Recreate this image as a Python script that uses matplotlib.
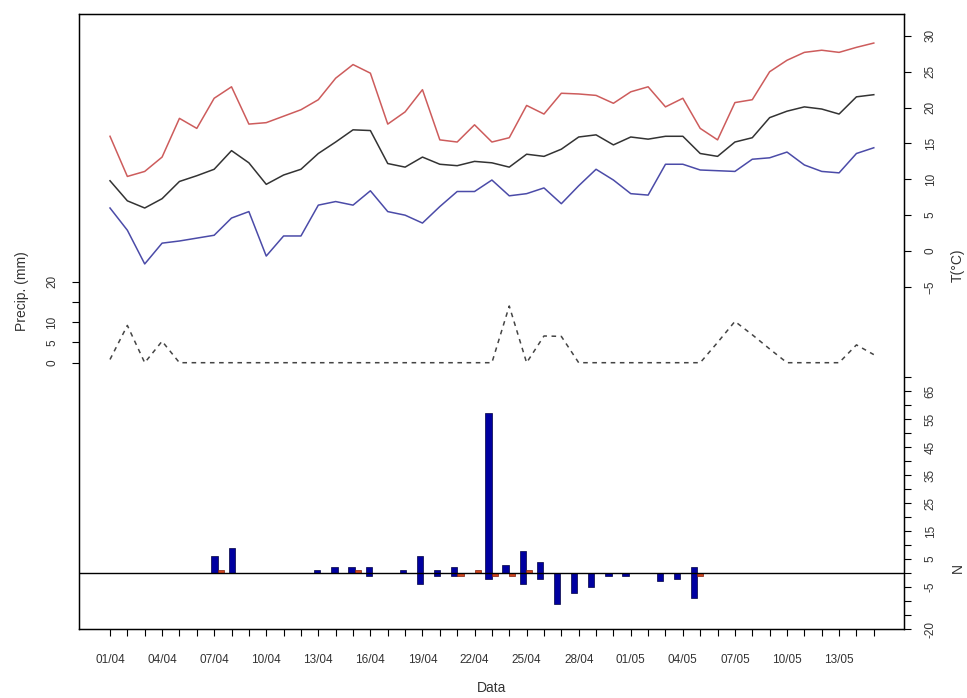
import matplotlib
matplotlib.use("Agg")
import matplotlib.pyplot as plt
import pandas as pd

plt.rcParams['font.family'] = ['Liberation Sans Narrow', 'Liberation Sans', 'DejaVu Sans']

# daily series, 01/04 .. 15/05
dates = pd.date_range("2000-04-01", "2000-05-15")
day_labels = [d.strftime("%d/%m") for d in dates]

t_max = [16.0, 10.4, 11.1, 13.1, 18.5, 17.1, 21.3, 22.9, 17.7, 17.9, 18.8, 19.7,
         21.1, 24.1, 26.0, 24.8, 17.7, 19.4, 22.5, 15.5, 15.2, 17.6, 15.2, 15.8,
         20.3, 19.1, 22.0, 21.9, 21.7, 20.6, 22.2, 22.9, 20.1, 21.3, 17.1, 15.5,
         20.7, 21.1, 25.0, 26.6, 27.7, 28.0, 27.7, 28.4, 29.0]
t_mean = [9.8, 7.0, 6.0, 7.3, 9.7, 10.5, 11.4, 14.0, 12.3, 9.3, 10.6, 11.4,
          13.6, 15.2, 16.9, 16.8, 12.2, 11.7, 13.1, 12.1, 11.9, 12.5, 12.3, 11.7,
          13.5, 13.2, 14.2, 15.9, 16.2, 14.8, 15.9, 15.6, 16.0, 16.0, 13.6, 13.2,
          15.2, 15.8, 18.6, 19.5, 20.1, 19.8, 19.1, 21.5, 21.8]
t_min = [6.0, 2.9, -1.8, 1.1, 1.4, 1.8, 2.2, 4.6, 5.5, -0.7, 2.1, 2.1,
         6.4, 6.9, 6.4, 8.4, 5.5, 5.0, 3.9, 6.2, 8.3, 8.3, 9.9, 7.7,
         8.0, 8.8, 6.6, 9.1, 11.4, 9.9, 8.0, 7.8, 12.1, 12.1, 11.3, 11.2,
         11.1, 12.8, 13.0, 13.8, 12.0, 11.1, 10.9, 13.6, 14.4]
precip = [0.8, 9.2, 0, 5.3, 0, 0, 0, 0, 0, 0, 0, 0,
          0, 0, 0, 0, 0, 0, 0, 0, 0, 0, 0, 14.0,
          0, 6.6, 6.5, 0, 0, 0, 0, 0, 0, 0, 0, 5.0,
          10.2, 6.9, 3.4, 0, 0, 0, 0, 4.4, 2.0]
n_up = [0, 0, 0, 0, 0, 0, 6, 9, 0, 0, 0, 0,
        1, 2, 2, 2, 0, 1, 6, 1, 2, 0, 57, 3,
        8, 4, 0, 0, 0, 0, 0, 0, 0, 0, 2, 0,
        0, 0, 0, 0, 0, 0, 0, 0, 0]
n_down = [0, 0, 0, 0, 0, 0, 0, 0, 0, 0, 0, 0,
          0, 0, 0, -1, 0, 0, -4, -1, -1, 0, -2, 0,
          -4, -2, -11, -7, -5, -1, -1, 0, -3, -2, -9, 0,
          0, 0, 0, 0, 0, 0, 0, 0, 0]
n_red = [0, 0, 0, 0, 0, 0, 1, 0, 0, 0, 0, 0,
         0, 0, 1, 0, 0, 0, 0, 0, -1, 1, -1, -1,
         1, 0, 0, 0, 0, 0, 0, 0, 0, 0, -1, 0,
         0, 0, 0, 0, 0, 0, 0, 0, 0]

x = list(range(len(dates)))
txt = "#333333"
fs = 8.5

fig = plt.figure(figsize=(9.67, 6.98), dpi=100)
rect = [79 / 967, 1 - 629 / 698, 825 / 967, 615 / 698]

ax = fig.add_axes(rect)
axp = ax.twinx()

# temperatures, right axis
ax.plot(x, t_max, color="#CD5C5C", lw=1.1)
ax.plot(x, t_mean, color="#333333", lw=1.1)
ax.plot(x, t_min, color="#4B4BA8", lw=1.1)
ax.set_xlim(-1.786, 45.74)
ax.set_ylim(-52.7, 33.05)
ax.yaxis.tick_right()
ax.set_yticks(range(-5, 31, 5))
ax.set_xticks(x)
ax.set_xticklabels([lab if i % 3 == 0 else "" for i, lab in enumerate(day_labels)])
ax.tick_params(axis="x", direction="out", length=5, width=0.8, pad=13,
               labelsize=fs, labelcolor=txt)
ax.tick_params(axis="y", direction="out", length=5, width=0.8, pad=10,
               labelsize=fs, labelcolor=txt, labelrotation=90)
for lab in ax.get_yticklabels():
    lab.set_va("center")
for s in ax.spines.values():
    s.set_linewidth(1.0)

# precipitation, left axis
axp.plot(x, precip, color="#444444", lw=1.1, ls=(0, (3, 3)))
axp.set_ylim(-65.75, 86.1)
axp.yaxis.tick_left()
axp.set_yticks([0, 5, 10, 15, 20])
axp.set_yticklabels(["0", "5", "10", "", "20"])
axp.tick_params(axis="y", direction="out", length=5, width=0.8, pad=10,
                labelsize=fs, labelcolor=txt, labelrotation=90)
for lab in axp.get_yticklabels():
    lab.set_va("center")

# bar panel on its own x scale
axn = fig.add_axes(rect, frameon=False)
axn.patch.set_visible(False)
axn.axhline(0, color="black", lw=1.0)
axn.bar(x, n_up, width=0.37, color="#0000A0", edgecolor="#000040", lw=0.5)
axn.bar(x, n_down, width=0.37, color="#0000A0", edgecolor="#000040", lw=0.5)
axn.bar([i + 0.37 for i in x], n_red, width=0.37, color="#D2461E",
        edgecolor="#802010", lw=0.5)
axn.set_xlim(-1.922, 46.27)
axn.set_ylim(-20, 199.6)
axn.set_xticks([])
axn.yaxis.tick_right()
n_ticks = list(range(-20, 71, 5))
n_show = {-20, -5, 5, 15, 25, 35, 45, 55, 65}
axn.set_yticks(n_ticks)
axn.set_yticklabels([str(v) if v in n_show else "" for v in n_ticks])
axn.tick_params(axis="y", direction="out", length=5, width=0.8, pad=10,
                labelsize=fs, labelcolor=txt, labelrotation=90)
for lab in axn.get_yticklabels():
    lab.set_va("center")

fig.text(22 / 967, 1 - 291 / 698, "Precip. (mm)", rotation=90, ha="center",
         va="center", fontsize=10, color=txt)
fig.text(492 / 967, 1 - 688 / 698, "Data", ha="center", va="center",
         fontsize=10, color=txt)
fig.text(958 / 967, 1 - 265 / 698, "T(°C)", rotation=90, ha="center",
         va="center", fontsize=10, color=txt)
fig.text(958 / 967, 1 - 568 / 698, "N", rotation=90, ha="center",
         va="center", fontsize=10, color=txt)

fig.savefig("out.png", dpi=100)
